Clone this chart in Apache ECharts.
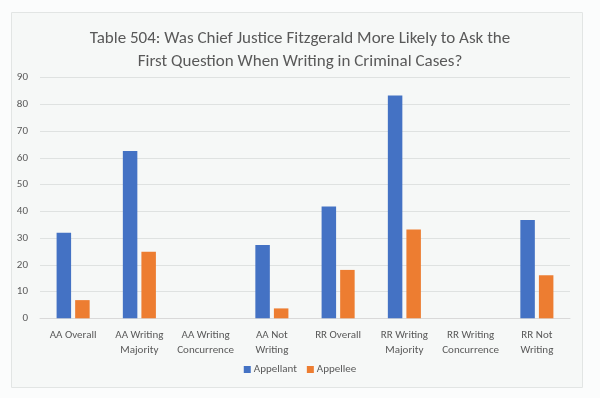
<!DOCTYPE html>
<html>
<head>
<meta charset="utf-8">
<script src="https://cdn.jsdelivr.net/npm/echarts@6/dist/echarts.min.js"></script>
<style>
  html, body { margin: 0; padding: 0; background: #fbfcfc; }
  #chart { width: 600px; height: 398px; }
</style>
</head>
<body>
<div id="chart"></div>
<script>
const categories = [
  'AA Overall', 'AA Writing\nMajority', 'AA Writing\nConcurrence', 'AA Not\nWriting',
  'RR Overall', 'RR Writing\nMajority', 'RR Writing\nConcurrence', 'RR Not\nWriting'
]
const appellant = [32.0, 62.6, 0, 27.4, 41.8, 83.3, 0, 36.8]
const appellee = [6.8, 24.9, 0, 3.7, 18.1, 33.2, 0, 16.1]

const font = 'Carlito, Lato, "Open Sans", sans-serif'
const chart = echarts.init(document.getElementById('chart'))

chart.setOption({
  animation: false,
  textStyle: { fontFamily: font },
  graphic: [{
    type: 'rect',
    shape: { x: 11.5, y: 12.5, width: 571, height: 375 },
    style: { fill: '#f6f8f7', stroke: '#e2e5e4', lineWidth: 1 },
    z: -10
  }],
  title: {
    text: 'Table 504: Was Chief Justice Fitzgerald More Likely to Ask the\nFirst Question When Writing in Criminal Cases?',
    left: 'center',
    top: 22,
    textStyle: { color: '#595959', fontSize: 17, fontWeight: 'normal', lineHeight: 23, fontFamily: font }
  },
  legend: {
    data: ['Appellant', 'Appellee'],
    bottom: 18,
    left: 'center',
    itemWidth: 7,
    itemHeight: 7,
    itemGap: 10,
    icon: 'rect',
    textStyle: { color: '#595959', fontSize: 11, padding: [0, 0, 0, -2] }
  },
  grid: { left: 40, right: 30, top: 77.7, bottom: 79.7 },
  xAxis: {
    type: 'category',
    data: categories,
    axisLine: { lineStyle: { color: '#d9d9d9' } },
    axisTick: { show: false },
    axisLabel: { color: '#595959', fontSize: 11, lineHeight: 15, margin: 9, interval: 0 }
  },
  yAxis: {
    type: 'value',
    min: 0,
    max: 90,
    interval: 10,
    axisLine: { show: false },
    axisTick: { show: false },
    axisLabel: { color: '#595959', fontSize: 11, margin: 12 },
    splitLine: { lineStyle: { color: '#dfe2e1' } }
  },
  series: [
    {
      name: 'Appellant',
      type: 'bar',
      data: appellant,
      barWidth: 14.5,
      barGap: '28%',
      itemStyle: { color: '#4472c4' }
    },
    {
      name: 'Appellee',
      type: 'bar',
      data: appellee,
      barWidth: 14.5,
      itemStyle: { color: '#ed7d31' }
    }
  ]
})
</script>
</body>
</html>
